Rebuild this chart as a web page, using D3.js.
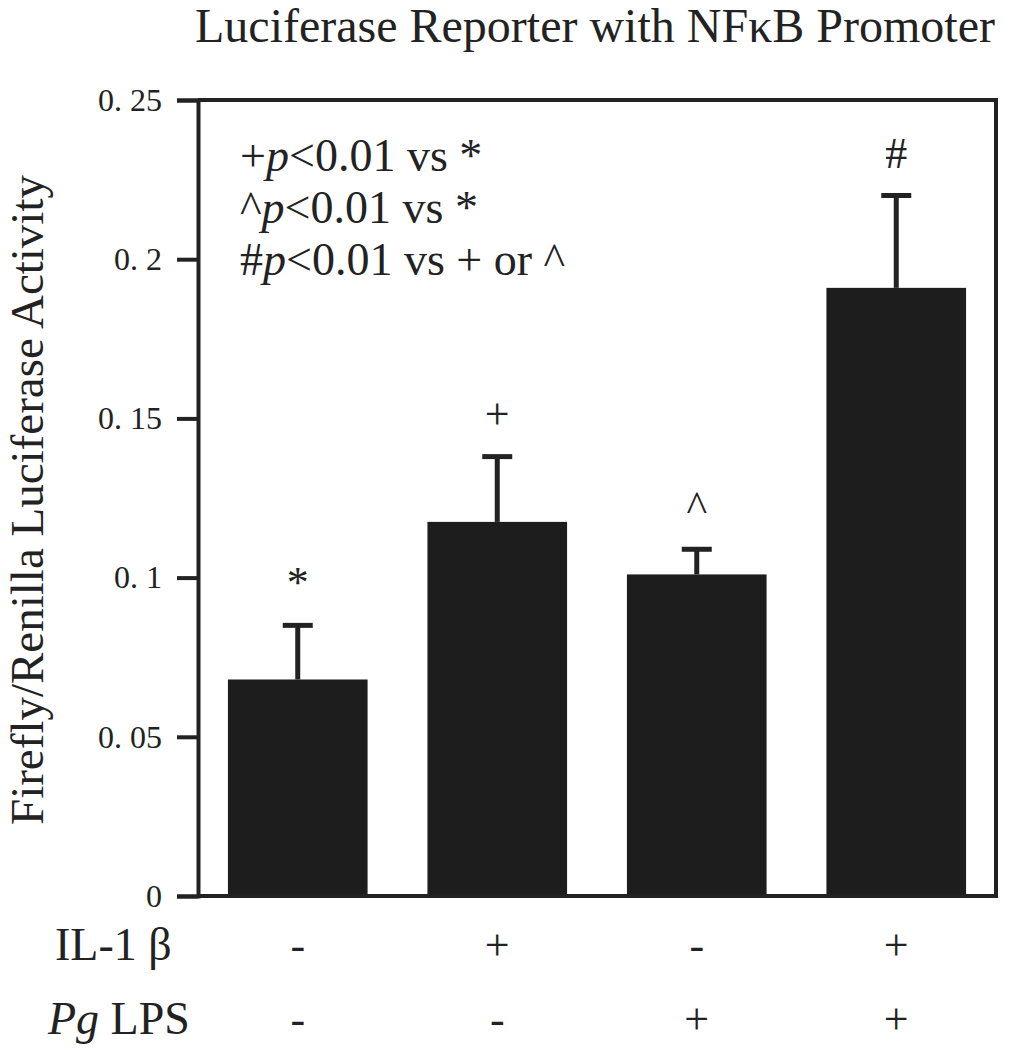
<!DOCTYPE html>
<html>
<head>
<meta charset="utf-8">
<script src="https://cdn.jsdelivr.net/npm/d3@7"></script>
<style>
  html, body { margin: 0; padding: 0; background: #fff; }
  svg { display: block; }
  text { font-family: "Liberation Serif", "Times New Roman", "DejaVu Serif", serif; fill: #222; }
</style>
</head>
<body>
<script>
// ---- data ----
const categories = ["Control", "IL-1β", "Pg LPS", "IL-1β + Pg LPS"];
const means = [0.068, 0.1175, 0.101, 0.191];
const errors = [0.017, 0.0205, 0.0079, 0.029];
const markers = ["*", "+", "^", "#"];
const il1b = ["-", "+", "-", "+"];
const pgLps = ["-", "-", "+", "+"];
const yTicks = [0, 0.05, 0.1, 0.15, 0.2, 0.25];
const yTickLabels = ["0", "0. 05", "0. 1", "0. 15", "0. 2", "0. 25"];
const titleText = "Luciferase Reporter with NFκB Promoter";
const yLabel = "Firefly/Renilla Luciferase Activity";

(function () {
// ---- layout ----
const W = 1012, H = 1050;
const pLeft = 198, pRight = 996, pTop = 100, pBottom = 896;
const ink = "#222";

const svg = d3.select("body").append("svg").attr("width", W).attr("height", H);

const x = d3.scaleBand().domain(categories).range([pLeft, pRight]).paddingInner(0.3).paddingOuter(0.15);
const y = d3.scaleLinear().domain([0, 0.25]).range([pBottom, pTop]);

// bars
svg.selectAll("rect.bar").data(categories).join("rect")
  .attr("class", "bar")
  .attr("x", d => x(d))
  .attr("width", x.bandwidth())
  .attr("y", (d, i) => y(means[i]))
  .attr("height", (d, i) => y(0) - y(means[i]))
  .attr("fill", "#1d1d1d");

// error bars (upper only)
const capW = 30;
categories.forEach((c, i) => {
  const cx = x(c) + x.bandwidth() / 2;
  svg.append("line")
    .attr("x1", cx).attr("x2", cx)
    .attr("y1", y(means[i])).attr("y2", y(means[i] + errors[i]))
    .attr("stroke", ink).attr("stroke-width", 5);
  svg.append("line")
    .attr("x1", cx - capW / 2).attr("x2", cx + capW / 2)
    .attr("y1", y(means[i] + errors[i])).attr("y2", y(means[i] + errors[i]))
    .attr("stroke", ink).attr("stroke-width", 5);
  svg.append("text")
    .attr("x", cx).attr("y", y(means[i] + errors[i]) - 28)
    .attr("text-anchor", "middle")
    .attr("font-size", 44)
    .text(markers[i]);
});

// frame (top / right / bottom) + y axis
const frameW = 4;
svg.append("line").attr("x1", pRight).attr("x2", pRight).attr("y1", pTop - frameW / 2).attr("y2", pBottom + frameW / 2)
  .attr("stroke", ink).attr("stroke-width", frameW);
svg.append("line").attr("x1", pLeft).attr("x2", pRight).attr("y1", pTop).attr("y2", pTop)
  .attr("stroke", ink).attr("stroke-width", frameW);
svg.append("line").attr("x1", pLeft).attr("x2", pRight).attr("y1", pBottom).attr("y2", pBottom)
  .attr("stroke", ink).attr("stroke-width", frameW);

const yAxis = d3.axisLeft(y)
  .tickValues(yTicks)
  .tickFormat((d, i) => yTickLabels[i])
  .tickSize(21)
  .tickPadding(15);

const gy = svg.append("g").attr("transform", `translate(${pLeft},0)`).call(yAxis);
gy.select(".domain").attr("stroke", ink).attr("stroke-width", frameW);
gy.selectAll(".tick line").attr("stroke", ink).attr("stroke-width", frameW);
gy.selectAll(".tick text")
  .attr("font-family", "'Liberation Serif', 'Times New Roman', serif")
  .attr("font-size", 32)
  .attr("fill", "#333");

// title
svg.append("text")
  .attr("x", 195).attr("y", 42)
  .attr("font-size", 48)
  .text(titleText);

// y label
svg.append("text")
  .attr("transform", "translate(43,500) rotate(-90)")
  .attr("text-anchor", "middle")
  .attr("font-size", 47)
  .text(yLabel);

// annotation lines
const ann = [
  { pre: "+", post: "<0.01 vs *" },
  { pre: "^", post: "<0.01 vs *" },
  { pre: "#", post: "<0.01 vs + or ^" }
];
ann.forEach((a, i) => {
  const t = svg.append("text")
    .attr("x", 240).attr("y", 171 + i * 52)
    .attr("font-size", 46);
  t.append("tspan").text(a.pre);
  t.append("tspan").attr("font-style", "italic").text("p");
  t.append("tspan").text(a.post);
});

// condition rows
const rowY = [960, 1034];
svg.append("text").attr("x", 55).attr("y", rowY[0]).attr("font-size", 46).text("IL-1 β");
const pl = svg.append("text").attr("x", 48).attr("y", rowY[1]).attr("font-size", 46);
pl.append("tspan").attr("font-style", "italic").text("Pg");
pl.append("tspan").text(" LPS");

categories.forEach((c, i) => {
  const cx = x(c) + x.bandwidth() / 2;
  svg.append("text").attr("x", cx).attr("y", rowY[0]).attr("text-anchor", "middle").attr("font-size", 44).text(il1b[i]);
  svg.append("text").attr("x", cx).attr("y", rowY[1]).attr("text-anchor", "middle").attr("font-size", 44).text(pgLps[i]);
});
})();
</script>
</body>
</html>
